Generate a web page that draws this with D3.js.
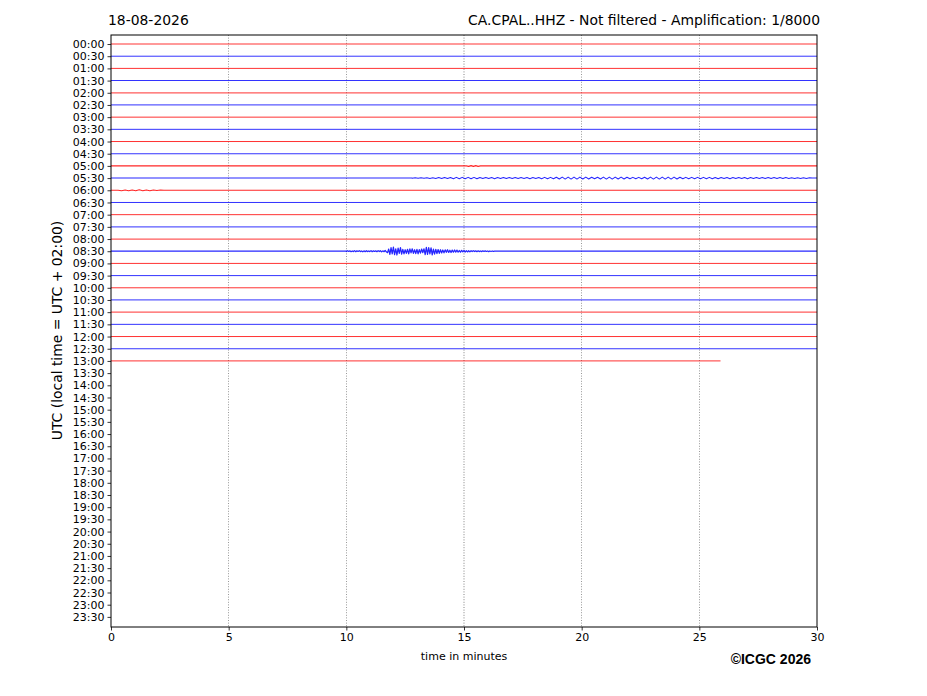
<!DOCTYPE html>
<html><head><meta charset="utf-8">
<script src="https://cdn.jsdelivr.net/npm/d3@7"></script>
<style>body{margin:0;background:#fff}svg{display:block}text{font-family:"DejaVu Sans",sans-serif}</style>
</head><body>
<svg id="c" width="927" height="696"></svg>
<script>
// ---- data ----
const rowLabels = d3.range(48).map(i => String(Math.floor(i/2)).padStart(2,"0") + ":" + (i%2 ? "30" : "00"));
const xTicks = [0,5,10,15,20,25,30];
const gridMinutes = [5,10,15,20,25];
const traceCount = 27;                       // rows 00:00 .. 13:00 recorded
const lastTraceEnd = 25.9;                   // minutes recorded in the 13:00 row
const noiseLevel = [2,1,1,2,3,3,1,1,1,2,3,2,2,1,1,3,3,3,1,1,1,3,3,1,1,2,3];
// event wiggles, amplitude in 1/100 of a row spacing
const ev0830Start = 10.0, ev0830Step = 0.05;
const ev0830 = [3,-4,2,-3,4,-2,3,-5,4,-3,2,-4,3,-2,5,-3,4,-4,3,-2,3,-5,4,-3,2,-3,4,-5,3,-4,5,-3,4,-6,5,
  12,-18,25,-30,22,-34,28,-20,31,-26,18,-29,24,-15,22,
  -12,18,-16,22,-19,14,-20,17,-12,19,-15,21,-13,16,-18,12,
  -20,28,-32,25,-30,22,-27,30,-18,24,-16,20,-14,18,
  -12,14,-10,13,-11,9,-12,10,-8,11,-9,8,-10,7,-9,8,-6,8,-7,5,-6,7,-5,6,-4,5,
  -4,3,-4,3,-3,4,-3,3,-2,3,-3,2,-3,2,-2,3,-2,2,-2,2,0];
const ev0530Start = 12.8, ev0530Step = 0.125;
const ev0530 = [1,-2,2,-3,2,-3,3,-3,3,-4,4,-4,4,-5,5,-6,6,-6,5,-6,6,-6,6,-5,
  4,-5,4,-4,5,-4,4,-5,4,-4,4,-4,4,-4,4,-5,5,-4,4,-5,5,-6,
  6,-6,6,-7,7,-8,8,-8,8,-8,8,-8,7,-8,7,-7,6,-7,7,-8,
  8,-8,8,-8,7,-8,7,-7,6,-6,6,-6,6,-7,7,-8,8,-8,8,-8,
  8,-8,8,-8,7,-7,6,-6,6,-6,6,-6,6,-6,5,-6,6,-5,5,-5,4,-5,
  5,-4,4,-4,4,-5,5,-4,4,-4,4,-4,4,-4,4,-4,4,-4,4,-4,3,-3,3,-3,3,-3,3,-2,0];
const ev0600Start = 0.3, ev0600Step = 0.15;
const ev0600 = [0,3,-2,4,-3,3,-4,3,-3,4,-3,2,-2,0];
const ev0500Start = 15.1, ev0500Step = 0.1;
const ev0500 = [0,4,-3,4,-2,3,0];
const labels = {date:"18-08-2026", title:"CA.CPAL..HHZ - Not filtered - Amplification: 1/8000",
  ylabel:"UTC (local time = UTC + 02:00)", xlabel:"time in minutes", credit:"©ICGC 2026"};

// ---- drawing ----
const svg = d3.select("#c");
const L=111, R=817, T=35, B=627;
const x = d3.scaleLinear().domain([0,30]).range([L,R]);
const y = d3.scaleLinear().domain([-0.74,47.83]).range([T,B]);
const colors = ["#ff0000","#0000ff"];

// grid
svg.append("g").selectAll("line").data(gridMinutes).join("line")
  .attr("x1",d=>x(d)).attr("x2",d=>x(d)).attr("y1",T).attr("y2",B)
  .attr("stroke","#000").attr("stroke-width",0.6).attr("stroke-dasharray","1,1.6").attr("opacity",0.8);

const events = [
  {row:17,start:ev0830Start,step:ev0830Step,vals:ev0830},
  {row:11,start:ev0530Start,step:ev0530Step,vals:ev0530},
  {row:12,start:ev0600Start,step:ev0600Step,vals:ev0600},
  {row:10,start:ev0500Start,step:ev0500Step,vals:ev0500}
];
const traces = d3.range(traceCount).map(i => {
  const end = i === traceCount-1 ? lastTraceEnd : 30;
  let pts = [[0,0]];
  const ev = events.find(e => e.row === i);
  if (ev) {
    pts.push([ev.start,0]);
    ev.vals.forEach((v,k) => pts.push([ev.start + k*ev.step, v/100]));
  }
  pts.push([end,0]);
  return {row:i, pts, level:noiseLevel[i], ev:!!ev};
});
const line = d3.line().x(d=>x(d[0])).y(d=>y(d[1]));
svg.append("g").selectAll("path").data(traces).join("path")
  .attr("d", t => line(t.pts.map(p => [p[0], t.row + p[1]])))
  .attr("fill","none")
  .attr("stroke", t => colors[t.row % 2])
  .attr("stroke-width", t => 0.65 + 0.2*t.level)
  .attr("stroke-opacity", t => t.ev ? 0.85 : 0.95 - 0.15*(t.level-1))
  .attr("stroke-linejoin","round");

// axes
const yAxis = d3.axisLeft(y).tickValues(d3.range(48)).tickFormat(i=>rowLabels[i]).tickSize(3.5).tickPadding(3);
const gy = svg.append("g").attr("transform",`translate(${L},0)`).call(yAxis);
const xAxis = d3.axisBottom(x).tickValues(xTicks).tickFormat(d3.format("d")).tickSize(3.5).tickPadding(3);
const gx = svg.append("g").attr("transform",`translate(0,${B})`).call(xAxis);
[gx,gy].forEach(g => { g.select(".domain").remove(); g.selectAll("text").attr("font-size","11px").attr("font-family","DejaVu Sans").attr("fill","#000"); g.selectAll("line").attr("stroke","#000").attr("stroke-width",0.8); });

svg.append("rect").attr("x",L).attr("y",T).attr("width",R-L).attr("height",B-T)
  .attr("fill","none").attr("stroke","#000").attr("stroke-width",1);

svg.append("text").attr("x",108).attr("y",25).attr("font-size","13.9px").text(labels.date);
svg.append("text").attr("x",820).attr("y",25).attr("text-anchor","end").attr("font-size","13.9px").text(labels.title);
svg.append("text").attr("transform",`translate(62,${(T+B)/2 - 0.5}) rotate(-90)`).attr("text-anchor","middle").attr("font-size","13.9px").text(labels.ylabel);
svg.append("text").attr("x",(L+R)/2).attr("y",660).attr("text-anchor","middle").attr("font-size","11px").text(labels.xlabel);
svg.append("text").attr("x",811).attr("y",664).attr("text-anchor","end").attr("font-size","14px").attr("font-weight","bold")
  .style("font-family","'Liberation Sans', Arial, sans-serif").text(labels.credit);
</script>
</body></html>
